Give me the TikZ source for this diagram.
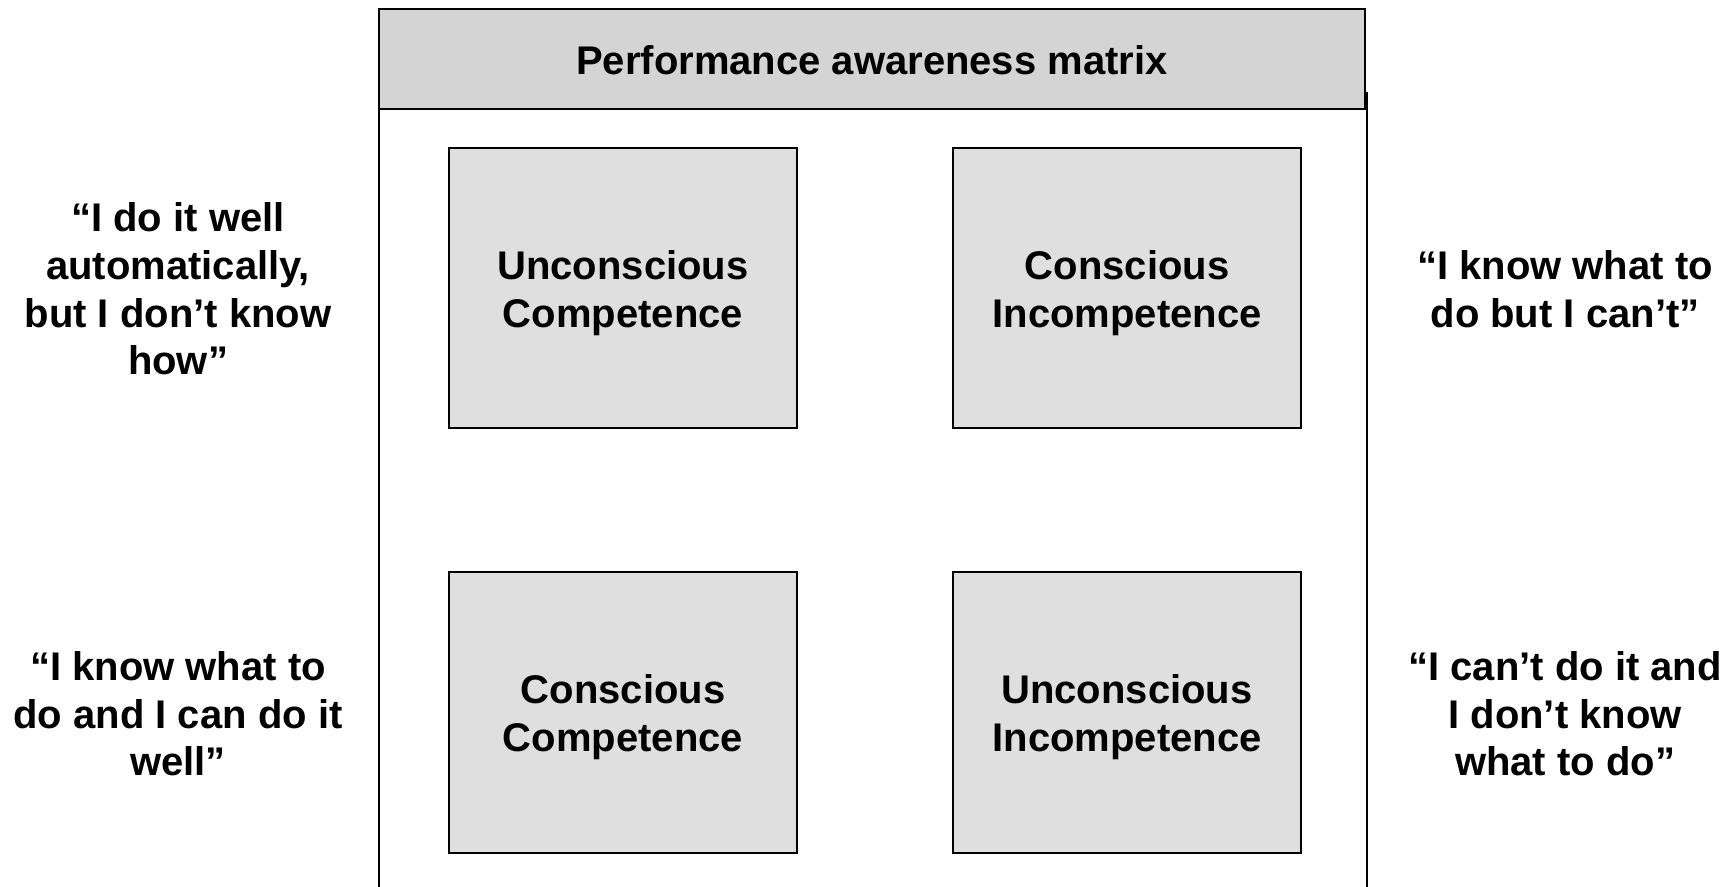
\documentclass[tikz,border=0pt]{standalone}
\usepackage{fontspec}
\setmainfont{Liberation Sans}
\begin{document}
\begin{tikzpicture}[x=1pt,y=-1pt,
  hdr/.style={draw=black,line width=2.5pt,fill=headgray},
  cell/.style={draw=black,line width=2.6pt,fill=cellgray},
  lbl/.style={align=center,inner sep=0pt,font=\fontsize{40}{47.6}\selectfont\bfseries},
]
\definecolor{headgray}{RGB}{212,212,212}
\definecolor{cellgray}{RGB}{223,223,223}
\useasboundingbox (0,0) rectangle (1736,886);
% outer frame sides (open at the bottom)
\coordinate (fl) at (379,92);
\coordinate (flb) at (379,890);
\coordinate (fr) at (1367,92);
\coordinate (frb) at (1367,890);
\draw[line width=2.6pt] (fl) -- (flb);
\draw[line width=2.6pt] (fr) -- (frb);
% header
\draw[hdr] (379,9) rectangle (1365,109);
\node[lbl] (title) at (872,60) {Performance awareness matrix};
% cells
\draw[cell] (449,148) rectangle (797,428);
\draw[cell] (953,148) rectangle (1301,428);
\draw[cell] (449,572) rectangle (797,853);
\draw[cell] (953,572) rectangle (1301,853);
\node[lbl] (uc) at (623,293) {Unconscious\\Competence};
\node[lbl] (ci) at (1127,293) {Conscious\\Incompetence};
\node[lbl] (cc) at (623,717) {Conscious\\Competence};
\node[lbl] (ui) at (1127,717) {Unconscious\\Incompetence};
% side quotes
\node[lbl] (q1) at (178,289) {“I do it well\\automatically,\\but I don’t know\\how”};
\node[lbl] (q2) at (1565,289) {“I know what to\\do but I can’t”};
\node[lbl] (q3) at (178,714) {“I know what to\\do and I can do it\\well”};
\node[lbl] (q4) at (1565,714) {“I can’t do it and\\I don’t know\\what to do”};
\end{tikzpicture}
\end{document}
